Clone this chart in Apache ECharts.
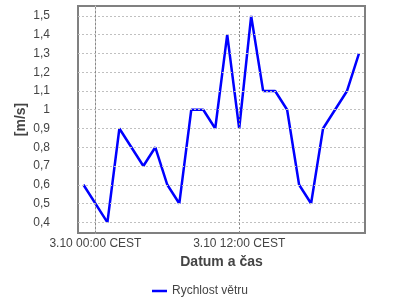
<!DOCTYPE html>
<html>
<head>
<meta charset="utf-8">
<script src="https://cdn.jsdelivr.net/npm/echarts@6/dist/echarts.min.js"></script>
<style>html,body{margin:0;padding:0;background:#fff}#c{width:400px;height:300px}</style>
</head>
<body>
<div id="c"></div>
<script>
// hours relative to 3.10 00:00 CEST
var hours = [-1, 1, 2, 4, 5, 6, 7, 8, 9, 10, 11, 12, 13, 14, 15, 16, 17, 18, 19, 21, 22];
var speeds = [0.6, 0.4, 0.9, 0.7, 0.8, 0.6, 0.5, 1.0, 1.0, 0.9, 1.4, 0.9, 1.5, 1.1, 1.1, 1.0, 0.6, 0.5, 0.9, 1.1, 1.3];
var xTickHours = [0, 12];
var xTickLabels = ['3.10 00:00 CEST', '3.10 12:00 CEST'];
var yTicks = [0.4, 0.5, 0.6, 0.7, 0.8, 0.9, 1.0, 1.1, 1.2, 1.3, 1.4, 1.5];
var seriesName = 'Rychlost větru';

var font = 'Liberation Sans, Arial, sans-serif';
var chart = echarts.init(document.getElementById('c'), null, {renderer: 'canvas'});
chart.setOption({
  animation: false,
  backgroundColor: '#ffffff',
  grid: {left: 78, right: 35, top: 6, bottom: 67, show: true, borderColor: '#808080', borderWidth: 2, backgroundColor: '#ffffff'},
  legend: {
    data: [seriesName], left: 147, top: 280, itemWidth: 15, itemHeight: 2.5, icon: 'rect', itemGap: 4,
    textStyle: {fontFamily: font, fontSize: 12, color: '#444'}
  },
  xAxis: {
    type: 'value', min: -1.454, max: 22.5,
    name: 'Datum a čas', nameLocation: 'middle', nameGap: 22, nameMoveOverlap: false,
    nameTextStyle: {fontFamily: font, fontSize: 14, fontWeight: 'bold', color: '#444'},
    axisLine: {show: false}, axisTick: {show: false}, splitLine: {show: false},
    axisLabel: {
      customValues: xTickHours, margin: 5, fontFamily: font, fontSize: 12, color: '#444',
      formatter: function (v) { var i = xTickHours.indexOf(v); return i >= 0 ? xTickLabels[i] : ''; }
    }
  },
  yAxis: {
    type: 'value', min: 0.343, max: 1.553, offset: 21,
    name: '[m/s]', nameLocation: 'middle', nameGap: 29, nameMoveOverlap: false,
    nameTextStyle: {fontFamily: font, fontSize: 14, fontWeight: 'bold', color: '#444'},
    axisLine: {show: true, lineStyle: {color: '#c8c8c8', width: 1}},
    axisTick: {show: false}, splitLine: {show: false},
    axisLabel: {
      customValues: yTicks, margin: 7, fontFamily: font, fontSize: 12, color: '#444',
      formatter: function (v) { var r = Math.round(v * 10) / 10; return (r === Math.round(r) ? String(Math.round(r)) : r.toFixed(1)).replace('.', ','); }
    }
  },
  series: [
    {
      name: 'grid', type: 'line', data: [], z: 1, silent: true,
      markLine: {
        silent: true, symbol: 'none', label: {show: false}, animation: false,
        data: yTicks.map(function (v) { return {yAxis: v, lineStyle: {color: '#c0c0c0', type: [2, 2], width: 1}}; })
          .concat(xTickHours.map(function (h) { return {xAxis: h, lineStyle: {color: '#8a8a8a', type: [2, 2], width: 1}}; }))
      }
    },
    {
      name: seriesName, type: 'line', z: 3, symbol: 'none',
      data: hours.map(function (h, i) { return [h, speeds[i]]; }),
      lineStyle: {color: '#0000ff', width: 2.5}, itemStyle: {color: '#0000ff'}
    }
  ]
});
</script>
</body>
</html>
